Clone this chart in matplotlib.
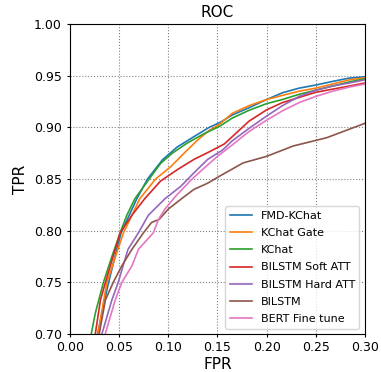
import matplotlib
matplotlib.use('Agg')
from matplotlib import pyplot as plt

# ROC points (FPR, TPR)
fmd_fpr = [0.028, 0.039, 0.0476, 0.052, 0.068, 0.0788, 0.094, 0.109, 0.126, 0.1415, 0.153,
           0.165, 0.182, 0.20, 0.216, 0.233, 0.25, 0.267, 0.284, 0.30]
fmd_tpr = [0.70, 0.749, 0.782, 0.798, 0.831, 0.85, 0.8686, 0.881, 0.891, 0.90, 0.905,
           0.912, 0.919, 0.927, 0.9335, 0.938, 0.941, 0.9445, 0.9477, 0.949]

gate_fpr = [0.0284, 0.0375, 0.0544, 0.0645, 0.071, 0.087, 0.1025, 0.116, 0.13, 0.1415, 0.152,
            0.165, 0.182, 0.20, 0.216, 0.233, 0.25, 0.267, 0.284, 0.30]
gate_tpr = [0.70, 0.75, 0.798, 0.818, 0.831, 0.85, 0.862, 0.875, 0.888, 0.897, 0.903,
            0.9136, 0.921, 0.927, 0.931, 0.935, 0.938, 0.942, 0.946, 0.948]

kchat_fpr = [0.0216, 0.0257, 0.034, 0.0426, 0.051, 0.0578, 0.066, 0.0805, 0.092, 0.104, 0.1195,
             0.1365, 0.152, 0.165, 0.182, 0.20, 0.216, 0.233, 0.25, 0.267, 0.284, 0.30]
kchat_tpr = [0.70, 0.72, 0.75, 0.775, 0.798, 0.815, 0.831, 0.85, 0.865, 0.875, 0.885,
             0.894, 0.901, 0.909, 0.9165, 0.923, 0.927, 0.932, 0.936, 0.940, 0.944, 0.947]

soft_fpr = [0.0257, 0.031, 0.036, 0.046, 0.051, 0.063, 0.076, 0.092, 0.109, 0.126, 0.143,
            0.157, 0.165, 0.182, 0.20, 0.216, 0.233, 0.25, 0.267, 0.284, 0.30]
soft_tpr = [0.70, 0.733, 0.75, 0.782, 0.798, 0.815, 0.831, 0.848, 0.859, 0.869, 0.877,
            0.884, 0.891, 0.906, 0.917, 0.924, 0.929, 0.934, 0.937, 0.940, 0.943]

hard_fpr = [0.0324, 0.0426, 0.049, 0.054, 0.059, 0.0696, 0.0797, 0.0966, 0.1127, 0.126, 0.14,
            0.155, 0.165, 0.182, 0.20, 0.216, 0.233, 0.25, 0.267, 0.284, 0.30]
hard_tpr = [0.70, 0.733, 0.75, 0.766, 0.782, 0.798, 0.815, 0.831, 0.843, 0.856, 0.869,
            0.878, 0.887, 0.899, 0.911, 0.921, 0.930, 0.936, 0.940, 0.943, 0.946]

bilstm_fpr = [0.0297, 0.036, 0.044, 0.0527, 0.063, 0.0747, 0.083, 0.0907, 0.10, 0.1135, 0.126,
              0.14, 0.1525, 0.176, 0.20, 0.227, 0.261, 0.30]
bilstm_tpr = [0.70, 0.733, 0.75, 0.766, 0.782, 0.798, 0.808, 0.811, 0.821, 0.831, 0.84,
              0.846, 0.853, 0.8656, 0.872, 0.882, 0.890, 0.904]

bert_fpr = [0.0358, 0.046, 0.0527, 0.063, 0.0696, 0.0848, 0.09, 0.0966, 0.107, 0.123, 0.138,
            0.15, 0.165, 0.182, 0.20, 0.216, 0.233, 0.25, 0.267, 0.284, 0.30]
bert_tpr = [0.70, 0.733, 0.75, 0.766, 0.782, 0.798, 0.811, 0.821, 0.833, 0.849, 0.862,
            0.872, 0.883, 0.896, 0.907, 0.916, 0.924, 0.930, 0.935, 0.939, 0.942]

curves = [
    ('FMD-KChat', fmd_fpr, fmd_tpr),
    ('KChat Gate', gate_fpr, gate_tpr),
    ('KChat', kchat_fpr, kchat_tpr),
    ('BILSTM Soft ATT', soft_fpr, soft_tpr),
    ('BILSTM Hard ATT', hard_fpr, hard_tpr),
    ('BILSTM', bilstm_fpr, bilstm_tpr),
    ('BERT Fine tune', bert_fpr, bert_tpr),
]
colors = ['tab:blue', 'tab:orange', 'tab:green', 'tab:red', 'tab:purple', 'tab:brown', 'tab:pink']

figure = plt.figure(figsize=(3.81, 3.72), dpi=100)
axes = figure.add_axes([0.1837, 0.102, 0.7743, 0.8333])

for (label, fpr, tpr), color in zip(curves, colors):
    axes.plot(fpr, tpr, color=color, label=label, linewidth=1.2)

axes.set_xlim(0.0, 0.3)
axes.set_ylim(0.7, 1.0)
axes.set_xticks([0.0, 0.05, 0.10, 0.15, 0.20, 0.25, 0.30])
axes.set_yticks([0.70, 0.75, 0.80, 0.85, 0.90, 0.95, 1.00])
axes.xaxis.set_major_formatter(matplotlib.ticker.FormatStrFormatter('%.2f'))
axes.yaxis.set_major_formatter(matplotlib.ticker.FormatStrFormatter('%.2f'))
axes.tick_params(axis='both', labelsize=9, length=2.5)
axes.tick_params(axis='x', pad=2.5)
axes.grid(True, linestyle=':', color='gray')
axes.set_title('ROC', fontsize=11, pad=5)
axes.set_xlabel('FPR', fontsize=11, labelpad=2)
axes.set_ylabel('TPR', fontsize=11, labelpad=4)
axes.legend(loc='lower right', fontsize=8, labelspacing=0.65)

figure.savefig('out.png', dpi=100)
